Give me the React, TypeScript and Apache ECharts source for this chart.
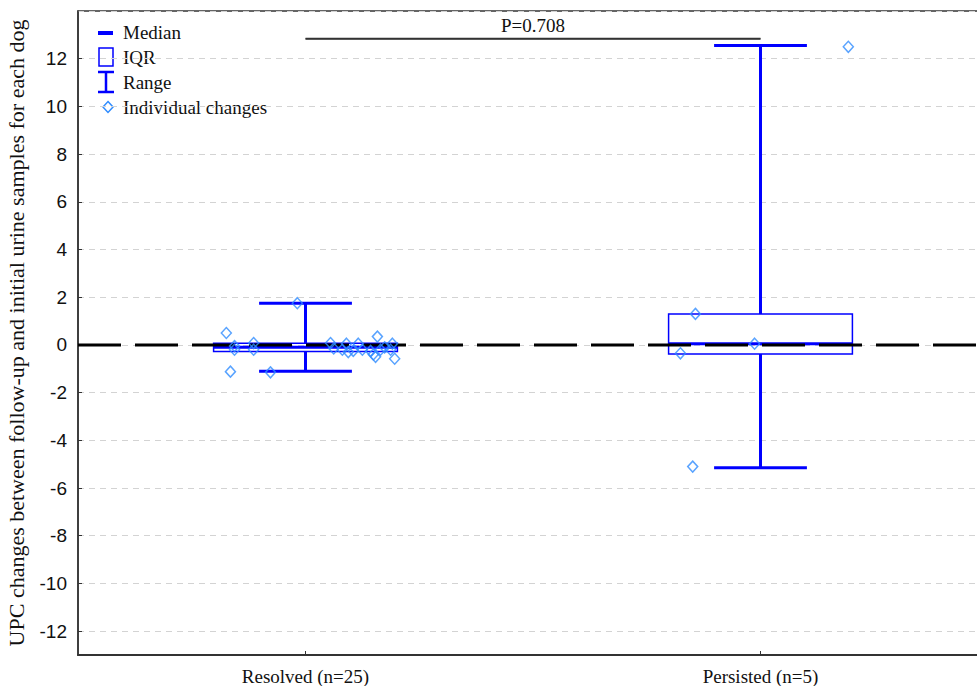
import React, { useEffect, useRef } from "react";
import * as echarts from "echarts";

// Categories and summary statistics
const categories = ["Resolved (n=25)", "Persisted (n=5)"];
const rangeMin = [-1.1, -5.15];
const q1 = [-0.28, -0.38];
const median = [-0.1, 0.05];
const q3 = [0.07, 1.3];
const rangeMax = [1.75, 12.55];

// Individual changes: horizontal jitter (category units) and value
const resolvedJitter = [-0.174, -0.165, -0.156, -0.156, -0.114, -0.114, -0.077, -0.018, 0.055, 0.062, 0.081, 0.09, 0.094, 0.105, 0.116, 0.125, 0.143, 0.149, 0.154, 0.158, 0.165, 0.174, 0.191, 0.196, 0.187];
const resolvedValues = [0.5, -1.12, -0.05, -0.2, 0.08, -0.2, -1.15, 1.75, 0.08, -0.15, -0.2, 0.05, -0.3, -0.25, 0.05, -0.2, -0.25, -0.4, -0.5, 0.35, -0.2, -0.1, 0.05, -0.58, -0.2];
const persistedJitter = [-0.143, -0.176, -0.013, -0.149, 0.193];
const persistedValues = [1.3, -0.35, 0.05, -5.1, 12.5];

const pValueLabel = "P=0.708";
const pLineLevel = 12.85;
const yAxisTitle = "UPC changes between follow-up and initial urine samples for each dog";
const legendLabels = ["Median", "IQR", "Range", "Individual changes"];

const SERIF = "'Liberation Serif', 'Times New Roman', serif";
const SANS = "'Liberation Sans', Arial, sans-serif";
const BLUE = "#0000ff";
const POINT = "#2f8cff";

export default function App() {
  const ref = useRef<HTMLDivElement>(null);
  useEffect(() => {
    if (!ref.current) return;
    const chart = echarts.init(ref.current, null, { renderer: "svg" });

    const boxData = categories.map((_, i) => [i, rangeMin[i], q1[i], median[i], q3[i], rangeMax[i]]);
    const points: number[][] = [];
    resolvedValues.forEach((v, k) => points.push([0 + resolvedJitter[k], v]));
    persistedValues.forEach((v, k) => points.push([1 + persistedJitter[k], v]));

    const legendX = 98;
    const legendYs = [32, 57, 82, 107];

    chart.setOption({
      animation: false,
      backgroundColor: "#ffffff",
      grid: {
        left: 78,
        top: 11,
        bottom: 31,
        right: -11,
        containLabel: false,
        outerBoundsMode: "none",
        show: true,
        borderColor: "#333",
        borderWidth: 1.5,
        backgroundColor: "transparent",
      },
      xAxis: [
        {
          type: "category",
          data: categories,
          boundaryGap: true,
          axisLine: { show: true, onZero: false, lineStyle: { color: "#333", width: 2 } },
          axisTick: { show: true, inside: true, length: 4, alignWithLabel: true, lineStyle: { color: "#333" } },
          axisLabel: { fontFamily: SERIF, fontSize: 19, color: "#111", margin: 12 },
          splitLine: { show: false },
        },
        {
          type: "value",
          min: -0.5,
          max: 1.5,
          show: false,
          axisLine: { onZero: false },
          splitLine: { show: false },
        },
      ],
      yAxis: {
        type: "value",
        min: -13,
        max: 14,
        splitNumber: 14,
        name: yAxisTitle,
        nameLocation: "middle",
        nameGap: 51,
        nameTextStyle: { fontFamily: SERIF, fontSize: 22, color: "#111" },
        axisLine: { show: true, onZero: false, lineStyle: { color: "#333", width: 1.5 } },
        axisTick: { show: true, inside: true, length: 4, lineStyle: { color: "#333" } },
        axisLabel: {
          fontFamily: SANS,
          fontSize: 19,
          color: "#111",
          margin: 11,
          showMinLabel: false,
          showMaxLabel: false,
          formatter: (v: number) => (Number.isInteger(v) && v % 2 === 0 ? String(v) : ""),
        },
        splitLine: { show: true, lineStyle: { color: "#d3d3d3", type: [6, 5], width: 1 } },
      },
      series: [
        {
          type: "custom",
          xAxisIndex: 1,
          yAxisIndex: 0,
          z: 2,
          data: boxData,
          encode: { x: 0, y: [1, 2, 3, 4, 5] },
          renderItem: (params: any, api: any) => {
            const x = api.value(0);
            const c = (dx: number, y: number) => api.coord([x + dx, y]);
            const half = 0.202;
            const cap = 0.102;
            const pMin = c(0, api.value(1));
            const pQ1 = c(0, api.value(2));
            const pMed = c(0, api.value(3));
            const pQ3 = c(0, api.value(4));
            const pMax = c(0, api.value(5));
            const left = c(-half, 0)[0];
            const right = c(half, 0)[0];
            const capL = c(-cap, 0)[0];
            const capR = c(cap, 0)[0];
            const thick = { stroke: BLUE, lineWidth: 3 };
            return {
              type: "group",
              children: [
                { type: "line", shape: { x1: pMax[0], y1: pMax[1], x2: pQ3[0], y2: pQ3[1] }, style: thick },
                { type: "line", shape: { x1: pQ1[0], y1: pQ1[1], x2: pMin[0], y2: pMin[1] }, style: thick },
                { type: "line", shape: { x1: capL, y1: pMax[1], x2: capR, y2: pMax[1] }, style: thick },
                { type: "line", shape: { x1: capL, y1: pMin[1], x2: capR, y2: pMin[1] }, style: thick },
                {
                  type: "rect",
                  shape: { x: left, y: pQ3[1], width: right - left, height: pQ1[1] - pQ3[1] },
                  style: { fill: "none", stroke: BLUE, lineWidth: 1.5 },
                },
                { type: "line", shape: { x1: left, y1: pMed[1], x2: right, y2: pMed[1] }, style: thick },
              ],
            };
          },
        },
        {
          type: "line",
          xAxisIndex: 1,
          yAxisIndex: 0,
          z: 3,
          showSymbol: false,
          silent: true,
          data: [[-0.5, 0], [1.5, 0]],
          lineStyle: { color: "#000", width: 3, type: [43, 14] },
        },
        {
          type: "line",
          xAxisIndex: 1,
          yAxisIndex: 0,
          z: 3,
          symbol: "none",
          silent: true,
          data: [[0, pLineLevel], [1, pLineLevel]],
          lineStyle: { color: "#333", width: 1.5 },
          markLine: {
            silent: true,
            symbol: "none",
            lineStyle: { color: "#333", width: 1.5, type: "solid" },
            label: {
              show: true,
              position: "middle",
              distance: 3,
              formatter: pValueLabel,
              fontFamily: SERIF,
              fontSize: 19,
              color: "#111",
            },
            data: [[{ coord: [0, pLineLevel] }, { coord: [1, pLineLevel] }]],
          },
        },
        {
          type: "scatter",
          xAxisIndex: 1,
          yAxisIndex: 0,
          z: 4,
          symbol: "diamond",
          symbolSize: [10, 11],
          data: points,
          itemStyle: { color: "transparent", borderColor: POINT, borderWidth: 1.5 },
        },
      ],
      graphic: [
        {
          type: "line",
          shape: { x1: legendX, y1: legendYs[0] + 1, x2: legendX + 15, y2: legendYs[0] + 1 },
          style: { stroke: BLUE, lineWidth: 4 },
        },
        {
          type: "rect",
          shape: { x: legendX + 1, y: legendYs[1] - 9, width: 14, height: 18 },
          style: { fill: "none", stroke: BLUE, lineWidth: 1.5 },
        },
        {
          type: "line",
          shape: { x1: legendX, y1: legendYs[2] - 10, x2: legendX + 16, y2: legendYs[2] - 10 },
          style: { stroke: BLUE, lineWidth: 2.5 },
        },
        {
          type: "line",
          shape: { x1: legendX, y1: legendYs[2] + 10, x2: legendX + 16, y2: legendYs[2] + 10 },
          style: { stroke: BLUE, lineWidth: 2.5 },
        },
        {
          type: "line",
          shape: { x1: legendX + 8, y1: legendYs[2] - 10, x2: legendX + 8, y2: legendYs[2] + 10 },
          style: { stroke: BLUE, lineWidth: 2.5 },
        },
        {
          type: "polygon",
          shape: {
            points: [
              [legendX + 10, legendYs[3] - 5.5],
              [legendX + 15, legendYs[3]],
              [legendX + 10, legendYs[3] + 5.5],
              [legendX + 5, legendYs[3]],
            ],
          },
          style: { fill: "none", stroke: POINT, lineWidth: 1.5 },
        },
        ...legendLabels.map((t, i) => ({
          type: "text",
          x: 123,
          y: legendYs[i],
          style: {
            text: t,
            fontFamily: SERIF,
            fontSize: 19,
            fill: "#111",
            verticalAlign: "middle",
          },
        })),
      ],
    });

    return () => chart.dispose();
  }, []);

  return <div ref={ref} style={{ width: 977, height: 686, position: "absolute", left: 0, top: 0 }} />;
}
